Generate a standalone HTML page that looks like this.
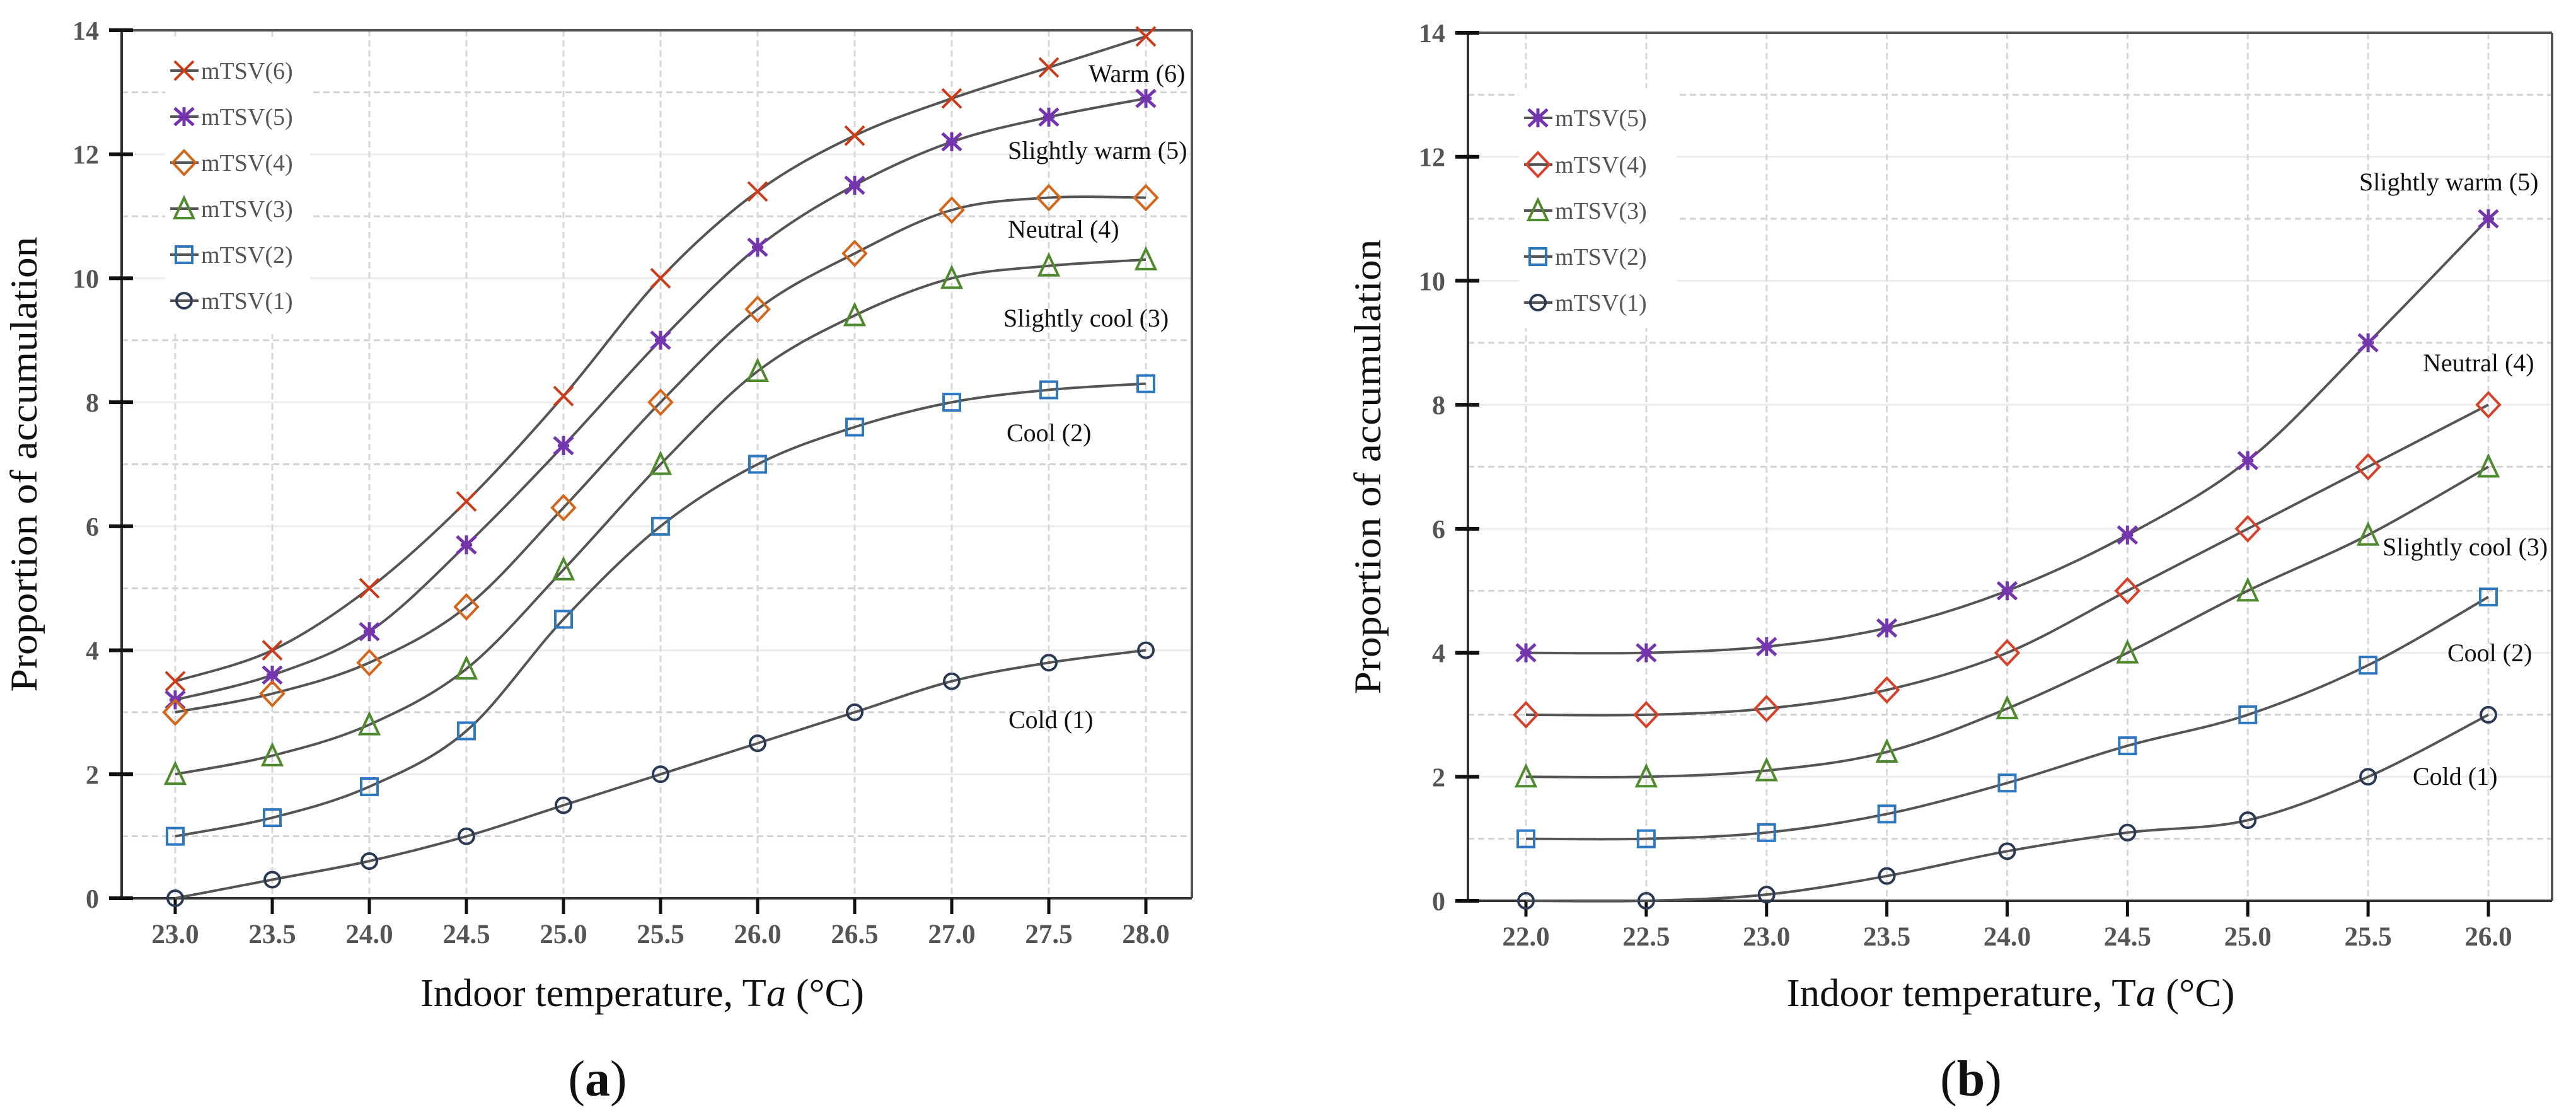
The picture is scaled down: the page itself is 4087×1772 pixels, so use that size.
<!DOCTYPE html>
<html><head><meta charset="utf-8">
<style>
html,body{margin:0;padding:0;background:#fff;}
svg{display:block;}
</style></head>
<body>
<svg id="fig" width="4087" height="1772" viewBox="0 0 4087 1772" xmlns="http://www.w3.org/2000/svg">
</svg>
<script>
// ---------- data: chart (a) ----------
const catsA = [23.0,23.5,24.0,24.5,25.0,25.5,26.0,26.5,27.0,27.5,28.0];
const a_m6 = [3.5,4.0,5.0,6.4,8.1,10.0,11.4,12.3,12.9,13.4,13.9];
const a_m5 = [3.2,3.6,4.3,5.7,7.3,9.0,10.5,11.5,12.2,12.6,12.9];
const a_m4 = [3.0,3.3,3.8,4.7,6.3,8.0,9.5,10.4,11.1,11.3,11.3];
const a_m3 = [2.0,2.3,2.8,3.7,5.3,7.0,8.5,9.4,10.0,10.2,10.3];
const a_m2 = [1.0,1.3,1.8,2.7,4.5,6.0,7.0,7.6,8.0,8.2,8.3];
const a_m1 = [0.0,0.3,0.6,1.0,1.5,2.0,2.5,3.0,3.5,3.8,4.0];
// ---------- data: chart (b) ----------
const catsB = [22.0,22.5,23.0,23.5,24.0,24.5,25.0,25.5,26.0];
const b_m5 = [4.0,4.0,4.1,4.4,5.0,5.9,7.1,9.0,11.0];
const b_m4 = [3.0,3.0,3.1,3.4,4.0,5.0,6.0,7.0,8.0];
const b_m3 = [2.0,2.0,2.1,2.4,3.1,4.0,5.0,5.9,7.0];
const b_m2 = [1.0,1.0,1.1,1.4,1.9,2.5,3.0,3.8,4.9];
const b_m1 = [0.0,0.0,0.1,0.4,0.8,1.1,1.3,2.0,3.0];
const yTicks = [0,2,4,6,8,10,12,14];
const namesA = ["mTSV(6)","mTSV(5)","mTSV(4)","mTSV(3)","mTSV(2)","mTSV(1)"];
const namesB = ["mTSV(5)","mTSV(4)","mTSV(3)","mTSV(2)","mTSV(1)"];
const labelsA = ["Warm (6)","Slightly warm (5)","Neutral (4)","Slightly cool (3)","Cool (2)","Cold (1)"];
const labelsB = ["Slightly warm (5)","Neutral (4)","Slightly cool (3)","Cool (2)","Cold (1)"];

const NS = "http://www.w3.org/2000/svg";
const svg = document.getElementById('fig');
function mk(tag, attrs, parent){
  const e = document.createElementNS(NS, tag);
  for (const k in attrs) e.setAttribute(k, attrs[k]);
  (parent||svg).appendChild(e);
  return e;
}
const COL = {x:'#cc3a17', star:'#7436ad', diamA:'#d4661c', diamB:'#d8402a', tri:'#4f8a2e', sq:'#2f78c0', circ:'#2a3a55'};

function marker(g, type, cx, cy, color){
  const s = 15, sw = 4;
  let el;
  if (type==='x'){
    el = mk('path',{d:`M${cx-s} ${cy-s}L${cx+s} ${cy+s}M${cx-s} ${cy+s}L${cx+s} ${cy-s}`,stroke:color,'stroke-width':sw,fill:'none'},g);
  } else if (type==='star'){
    el = mk('path',{d:`M${cx} ${cy-s}L${cx} ${cy+s}M${cx-s} ${cy-s*0.9}L${cx+s} ${cy+s*0.9}M${cx-s} ${cy+s*0.9}L${cx+s} ${cy-s*0.9}M${cx-s*0.6} ${cy}L${cx+s*0.6} ${cy}`,stroke:color,'stroke-width':sw+1,fill:'none'},g);
  } else if (type==='diam'){
    el = mk('path',{d:`M${cx} ${cy-19}L${cx+18} ${cy}L${cx} ${cy+19}L${cx-18} ${cy}Z`,stroke:color,'stroke-width':sw,fill:'none'},g);
  } else if (type==='tri'){
    el = mk('path',{d:`M${cx} ${cy-17}L${cx+15} ${cy+15}L${cx-15} ${cy+15}Z`,stroke:color,'stroke-width':sw,fill:'none'},g);
  } else if (type==='sq'){
    el = mk('rect',{x:cx-13,y:cy-13,width:26,height:26,stroke:color,'stroke-width':sw,fill:'none'},g);
  } else {
    el = mk('circle',{cx:cx,cy:cy,r:12,stroke:color,'stroke-width':sw,fill:'none'},g);
  }
  return el;
}

function smoothPath(pts){
  let d = `M${pts[0][0]} ${pts[0][1]}`;
  for (let i=0;i<pts.length-1;i++){
    const p0 = pts[i-1]||pts[i], p1=pts[i], p2=pts[i+1], p3=pts[i+2]||pts[i+1];
    const t=1/6;
    const c1x=p1[0]+(p2[0]-p0[0])*t, c1y=p1[1]+(p2[1]-p0[1])*t;
    const c2x=p2[0]-(p3[0]-p1[0])*t, c2y=p2[1]-(p3[1]-p1[1])*t;
    d += `C${c1x} ${c1y} ${c2x} ${c2y} ${p2[0]} ${p2[1]}`;
  }
  return d;
}

function chart(cfg){
  const g = mk('g',{});
  
  
  const X = v => cfg.x0 + (v - cfg.cats[0]) / (cfg.cats[cfg.cats.length-1]-cfg.cats[0]) * (cfg.xN - cfg.x0);
  const Y = v => cfg.y0 - v * (cfg.y0 - cfg.yTop) / 14;
  for (let v=1; v<14; v++){
    const gl = mk('line',{x1:cfg.L,x2:cfg.R,y1:Y(v),y2:Y(v),stroke: v%2?'#d4d4d4':'#ececec','stroke-width':3,'stroke-dasharray': v%2?'10 6':'none'},g);
    
    
  }
  cfg.cats.forEach(c=>{
    const gl = mk('line',{x1:X(c),x2:X(c),y1:cfg.yTop,y2:cfg.y0,stroke:'#d8d8d8','stroke-width':3,'stroke-dasharray':'10 6'},g);
    
    
  });
  const lb = mk('rect',{x:cfg.legX-30,y:cfg.legBoxTop,width:cfg.legW,height:cfg.legBoxH,fill:'#fff'},g);
  
  
  mk('line',{x1:cfg.L,x2:cfg.R,y1:cfg.yTop,y2:cfg.yTop,stroke:'#555','stroke-width':4},g);
  mk('line',{x1:cfg.R,x2:cfg.R,y1:cfg.yTop,y2:cfg.y0,stroke:'#555','stroke-width':4},g);
  const xa = mk('line',{x1:cfg.L,x2:cfg.R,y1:cfg.y0,y2:cfg.y0,stroke:'#333','stroke-width':4},g);
  
  
  const ya = mk('line',{x1:cfg.L,x2:cfg.L,y1:cfg.yTop,y2:cfg.y0,stroke:'#333','stroke-width':4},g);
  
  
  yTicks.forEach(v=>{
    mk('line',{x1:cfg.L-20,x2:cfg.L+18,y1:Y(v),y2:Y(v),stroke:'#111','stroke-width':6},g);
    const t = mk('text',{x:cfg.L-36,y:Y(v)+15,'text-anchor':'end','font-family':'Liberation Serif, serif','font-weight':'bold','font-size':42,fill:'#555'},g);
    t.textContent = v;
    
    
  });
  cfg.cats.forEach(c=>{
    mk('line',{x1:X(c),x2:X(c),y1:cfg.y0,y2:cfg.y0+25,stroke:'#111','stroke-width':5},g);
    const t = mk('text',{x:X(c),y:cfg.y0+71,'text-anchor':'middle','font-family':'Liberation Serif, serif','font-weight':'bold','font-size':43,fill:'#555'},g);
    t.textContent = c.toFixed(1);
    
    
  });
  cfg.series.forEach((s,i)=>{
    const pts = s.vals.map((v,j)=>[X(cfg.cats[j]),Y(v)]);
    const p = mk('path',{d:smoothPath(pts),stroke:'#555','stroke-width':4,fill:'none'},g);
    
    
    pts.forEach(pt=>{
      const m = marker(g,s.type,pt[0],pt[1],s.color);
      
      
    });
    const ly = cfg.legY[i];
    mk('line',{x1:cfg.legX-22,x2:cfg.legX+23,y1:ly,y2:ly,stroke:'#555','stroke-width':4},g);
    const lm = marker(g,s.type,cfg.legX,ly,s.color);
    
    
    const lt = mk('text',{x:cfg.legX+27,y:ly+13,'font-family':'Liberation Serif, serif','font-size':38,fill:'#555'},g);
    lt.textContent = s.name;
    
    
    const an = mk('text',{x:cfg.ann[i][0],y:cfg.ann[i][1],'font-family':'Liberation Serif, serif','font-size':40,fill:'#111'},g);
    an.textContent = s.label;
    
    
  });
  const yt = mk('text',{x:0,y:0,transform:`translate(${cfg.ytX},${(cfg.yTop+cfg.y0)/2}) rotate(-90)`,'text-anchor':'middle','font-family':'Liberation Serif, serif','font-size':60,fill:'#111',textLength:722,lengthAdjust:'spacingAndGlyphs'},g);
  yt.textContent = 'Proportion of accumulation';
  
  
  const xt = mk('text',{x:cfg.xtX,y:1596,'text-anchor':'middle','font-family':'Liberation Serif, serif','font-size':62,fill:'#111',textLength:cfg.xtW,lengthAdjust:'spacingAndGlyphs'},g);
  xt.innerHTML = 'Indoor temperature, T<tspan font-style="italic">a</tspan> (°C)';
  
  
  const pl = mk('text',{x:cfg.panelX,y:1738,'text-anchor':'middle','font-family':'Liberation Serif, serif','font-size':80,fill:'#111'},g);
  pl.innerHTML = '(<tspan font-weight="bold">'+cfg.panel+'</tspan>)';
  
  
}

chart({
  id:'chart-a', cats:catsA, L:193, R:1891, x0:278, xN:1818, y0:1425, yTop:48,
  legX:292, legY:[112,185,258,331,404,477], legBoxTop:60, legW:230, legBoxH:470,
  ytX:58, xtX:1019, xtW:704, panel:'a', panelX:948,
  series:[
    {name:namesA[0],label:labelsA[0],vals:a_m6,type:'x',color:COL.x},
    {name:namesA[1],label:labelsA[1],vals:a_m5,type:'star',color:COL.star},
    {name:namesA[2],label:labelsA[2],vals:a_m4,type:'diam',color:COL.diamA},
    {name:namesA[3],label:labelsA[3],vals:a_m3,type:'tri',color:COL.tri},
    {name:namesA[4],label:labelsA[4],vals:a_m2,type:'sq',color:COL.sq},
    {name:namesA[5],label:labelsA[5],vals:a_m1,type:'circ',color:COL.circ}
  ],
  ann:[[1727,130],[1599,252],[1599,377],[1592,518],[1597,700],[1600,1155]]
});
chart({
  id:'chart-b', cats:catsB, L:2329, R:4049, x0:2421, xN:3948, y0:1429, yTop:52,
  legX:2440, legY:[187,261,334,407,480], legBoxTop:140, legW:250, legBoxH:380,
  ytX:2190, xtX:3190, xtW:711, panel:'b', panelX:3127,
  series:[
    {name:namesB[0],label:labelsB[0],vals:b_m5,type:'star',color:COL.star},
    {name:namesB[1],label:labelsB[1],vals:b_m4,type:'diam',color:COL.diamB},
    {name:namesB[2],label:labelsB[2],vals:b_m3,type:'tri',color:COL.tri},
    {name:namesB[3],label:labelsB[3],vals:b_m2,type:'sq',color:COL.sq},
    {name:namesB[4],label:labelsB[4],vals:b_m1,type:'circ',color:COL.circ}
  ],
  ann:[[3743,302],[3844,589],[3780,881],[3883,1049],[3828,1245]]
});
</script>
</body></html>
